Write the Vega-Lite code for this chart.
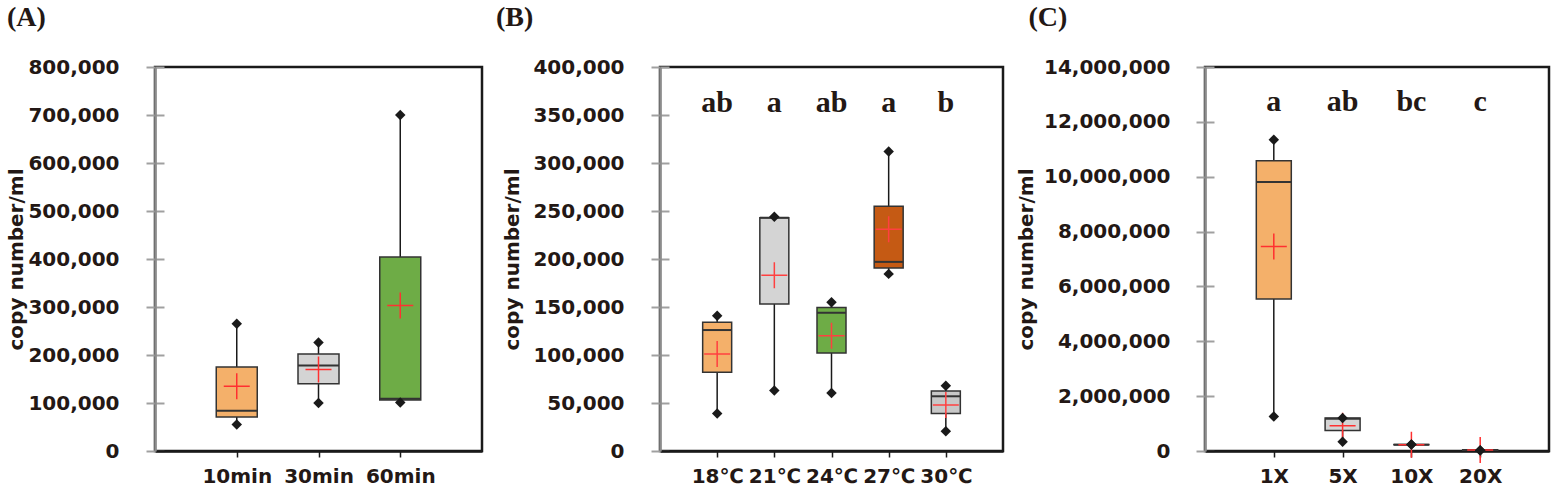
{
  "$schema": "https://vega.github.io/schema/vega-lite/v6.json",
  "background": "white",
  "padding": {"left": 5, "top": 2, "right": 0, "bottom": 0},
  "spacing": 10,
  "resolve": {"scale": {"color": "independent", "x": "independent", "y": "independent"}},
  "config": {
    "view": {"stroke": "#1a1a1a", "strokeWidth": 2.5},
    "font": "DejaVu Sans",
    "title": {"font": "Liberation Serif", "fontWeight": "bold", "fontSize": 28, "anchor": "start", "frame": "bounds", "color": "#231815", "offset": 25},
    "axisX": {"labelAngle": 0, "title": null, "labelFont": "DejaVu Sans", "labelFontWeight": "bold", "labelFontSize": 20, "labelColor": "#231815", "domainColor": "#1a1a1a", "domainWidth": 2.5, "tickColor": "#1a1a1a", "tickSize": 6, "tickWidth": 1.5, "labelPadding": 9, "zindex": 1},
    "axisY": {"format": ",.0f", "labelFont": "DejaVu Sans", "labelFontWeight": "bold", "labelFontSize": 20, "labelColor": "#231815", "labelPadding": 27, "tickSize": 9, "tickColor": "#a0a0a0", "tickWidth": 2, "domainColor": "#8c8c8c", "domainWidth": 2.5, "grid": true, "gridColor": "#a0a0a0", "gridWidth": 2, "gridDash": [9, 3000], "titleFont": "DejaVu Sans", "titleFontSize": 20, "titleFontWeight": "bold", "titleColor": "#231815", "zindex": 1}
  },
  "datasets": {
    "A": [
      {"group": "10min", "lower": 55000, "q1": 71000, "median": 84000, "q3": 175000, "upper": 265000, "mean": 135000},
      {"group": "30min", "lower": 100000, "q1": 140000, "median": 178000, "q3": 202000, "upper": 226000, "mean": 170000},
      {"group": "60min", "lower": 101000, "q1": 106000, "median": 109000, "q3": 404000, "upper": 700000, "mean": 303000}
    ],
    "B": [
      {"group": "18℃", "lower": 39000, "q1": 82000, "median": 126000, "q3": 134000, "upper": 141000, "mean": 101000, "letter": "ab"},
      {"group": "21℃", "lower": 63000, "q1": 153000, "median": 243000, "q3": 243000, "upper": 244000, "mean": 183000, "letter": "a"},
      {"group": "24℃", "lower": 60500, "q1": 102000, "median": 144000, "q3": 149500, "upper": 155000, "mean": 120000, "letter": "ab"},
      {"group": "27℃", "lower": 184500, "q1": 190500, "median": 197000, "q3": 255000, "upper": 312000, "mean": 231000, "letter": "a"},
      {"group": "30℃", "lower": 20600, "q1": 39000, "median": 57000, "q3": 62500, "upper": 68000, "mean": 48000, "letter": "b"}
    ],
    "C": [
      {"group": "1X", "lower": 1260000, "q1": 5540000, "median": 9810000, "q3": 10580000, "upper": 11350000, "mean": 7460000, "letter": "a"},
      {"group": "5X", "lower": 340000, "q1": 750000, "median": 1180000, "q3": 1200000, "upper": 1200000, "mean": 920000, "letter": "ab"},
      {"group": "10X", "lower": 240000, "q1": 225000, "median": 230000, "q3": 240000, "upper": 240000, "mean": 230000, "letter": "bc"},
      {"group": "20X", "lower": 20000, "q1": 30000, "median": 40000, "q3": 50000, "upper": 30000, "mean": 40000, "letter": "c"}
    ]
  },
  "hconcat": [
    {
      "title": {"text": "(A)"},
      "width": 327, "height": 384,
      "data": {"name": "A"},
      "encoding": {"x": {"field": "group", "type": "nominal", "sort": null, "scale": {"type": "point", "padding": 1}}},
      "layer": [
        {"mark": {"type": "rule", "color": "#1a1a1a", "strokeWidth": 1.5},
         "encoding": {"y": {"field": "lower", "type": "quantitative", "title": "copy number/ml", "scale": {"domain": [0, 800000], "nice": false}, "axis": {"format": ",.0f", "values": [0,100000,200000,300000,400000,500000,600000,700000,800000], "titlePadding": 1}}, "y2": {"field": "upper"}}},
        {"mark": {"type": "bar", "size": 41, "stroke": "#333333", "strokeWidth": 1.5},
         "encoding": {"y": {"field": "q1", "type": "quantitative", "title": "copy number/ml"}, "y2": {"field": "q3"},
           "color": {"field": "group", "type": "nominal", "scale": {"domain": ["10min", "30min", "60min"], "range": ["#f4b06a", "#d4d4d4", "#6eac46"]}, "legend": null}}},
        {"mark": {"type": "tick", "size": 41, "thickness": 2, "color": "#333333", "opacity": 1},
         "encoding": {"y": {"field": "median", "type": "quantitative", "title": "copy number/ml"}}},
        {"mark": {"type": "point", "shape": "M-1,0L1,0M0,-1L0,1", "size": 676, "stroke": "#ff3030", "strokeWidth": 1.5, "filled": false, "opacity": 1},
         "encoding": {"y": {"field": "mean", "type": "quantitative", "title": "copy number/ml"}}},
        {"mark": {"type": "point", "shape": "diamond", "size": 110, "filled": true, "color": "#1a1a1a", "opacity": 1},
         "encoding": {"y": {"field": "lower", "type": "quantitative", "title": "copy number/ml"}}},
        {"mark": {"type": "point", "shape": "diamond", "size": 110, "filled": true, "color": "#1a1a1a", "opacity": 1},
         "encoding": {"y": {"field": "upper", "type": "quantitative", "title": "copy number/ml"}}}
      ]
    },
    {
      "title": {"text": "(B)", "dx": -7},
      "width": 343, "height": 384,
      "data": {"name": "B"},
      "encoding": {"x": {"field": "group", "type": "nominal", "sort": null, "scale": {"type": "point", "padding": 1}}},
      "layer": [
        {"mark": {"type": "rule", "color": "#1a1a1a", "strokeWidth": 1.5},
         "encoding": {"y": {"field": "lower", "type": "quantitative", "title": "copy number/ml", "scale": {"domain": [0, 400000], "nice": false}, "axis": {"format": ",.0f", "values": [0,50000,100000,150000,200000,250000,300000,350000,400000], "titlePadding": 10}}, "y2": {"field": "upper"}}},
        {"mark": {"type": "bar", "size": 29, "stroke": "#333333", "strokeWidth": 1.5},
         "encoding": {"y": {"field": "q1", "type": "quantitative", "title": "copy number/ml"}, "y2": {"field": "q3"},
           "color": {"field": "group", "type": "nominal", "scale": {"domain": ["18℃", "21℃", "24℃", "27℃", "30℃"], "range": ["#f4b06a", "#d4d4d4", "#6eac46", "#c55a14", "#c8c8c8"]}, "legend": null}}},
        {"mark": {"type": "tick", "size": 29, "thickness": 2, "color": "#333333", "opacity": 1},
         "encoding": {"y": {"field": "median", "type": "quantitative", "title": "copy number/ml"}}},
        {"mark": {"type": "point", "shape": "M-1,0L1,0M0,-1L0,1", "size": 676, "stroke": "#ff4040", "strokeWidth": 1.5, "filled": false, "opacity": 1},
         "encoding": {"y": {"field": "mean", "type": "quantitative", "title": "copy number/ml"}}},
        {"mark": {"type": "point", "shape": "diamond", "size": 110, "filled": true, "color": "#1a1a1a", "opacity": 1},
         "encoding": {"y": {"field": "lower", "type": "quantitative", "title": "copy number/ml"}}},
        {"mark": {"type": "point", "shape": "diamond", "size": 110, "filled": true, "color": "#1a1a1a", "opacity": 1},
         "encoding": {"y": {"field": "upper", "type": "quantitative", "title": "copy number/ml"}}},
        {"mark": {"type": "text", "font": "Liberation Serif", "fontWeight": "bold", "fontSize": 30, "color": "#231815", "baseline": "middle", "align": "center"},
         "encoding": {"y": {"datum": 363000, "type": "quantitative"}, "text": {"field": "letter"}}}
      ]
    },
    {
      "title": {"text": "(C)", "dx": 12},
      "width": 344, "height": 384,
      "data": {"name": "C"},
      "encoding": {"x": {"field": "group", "type": "nominal", "sort": null, "scale": {"type": "point", "padding": 1}}},
      "layer": [
        {"mark": {"type": "rule", "color": "#1a1a1a", "strokeWidth": 1.5},
         "encoding": {"y": {"field": "lower", "type": "quantitative", "title": "copy number/ml", "scale": {"domain": [0, 14000000], "nice": false}, "axis": {"format": ",.0f", "values": [0,2000000,4000000,6000000,8000000,10000000,12000000,14000000], "titlePadding": 7, "labelPadding": 26}}, "y2": {"field": "upper"}}},
        {"mark": {"type": "bar", "size": 35, "stroke": "#333333", "strokeWidth": 1.5},
         "encoding": {"y": {"field": "q1", "type": "quantitative", "title": "copy number/ml"}, "y2": {"field": "q3"},
           "color": {"field": "group", "type": "nominal", "scale": {"domain": ["1X", "5X", "10X", "20X"], "range": ["#f4b06a", "#d4d4d4", "#d4d4d4", "#d4d4d4"]}, "legend": null}}},
        {"mark": {"type": "tick", "size": 35, "thickness": 2, "color": "#333333", "opacity": 1},
         "encoding": {"y": {"field": "median", "type": "quantitative", "title": "copy number/ml"}}},
        {"mark": {"type": "point", "shape": "M-1,0L1,0M0,-1L0,1", "size": 676, "stroke": "#ff3030", "strokeWidth": 1.5, "filled": false, "opacity": 1},
         "encoding": {"y": {"field": "mean", "type": "quantitative", "title": "copy number/ml"}}},
        {"mark": {"type": "point", "shape": "diamond", "size": 110, "filled": true, "color": "#1a1a1a", "opacity": 1},
         "encoding": {"y": {"field": "lower", "type": "quantitative", "title": "copy number/ml"}}},
        {"mark": {"type": "point", "shape": "diamond", "size": 110, "filled": true, "color": "#1a1a1a", "opacity": 1},
         "encoding": {"y": {"field": "upper", "type": "quantitative", "title": "copy number/ml"}}},
        {"mark": {"type": "text", "font": "Liberation Serif", "fontWeight": "bold", "fontSize": 30, "color": "#231815", "baseline": "middle", "align": "center"},
         "encoding": {"y": {"datum": 12720000, "type": "quantitative"}, "text": {"field": "letter"}}}
      ]
    }
  ]
}
